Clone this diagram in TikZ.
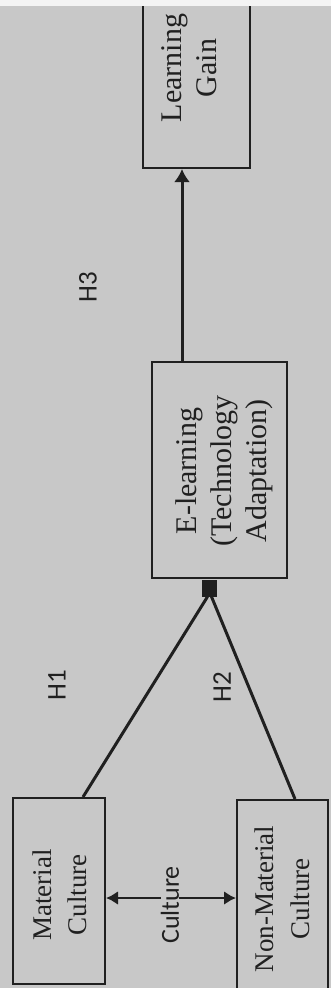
\documentclass[tikz,border=0pt]{standalone}
\usepackage{fontspec}
\setmainfont{Liberation Serif}
\newfontfamily\hyfont{Carlito}
\usetikzlibrary{arrows.meta}
\definecolor{paper}{RGB}{200,200,200}
\definecolor{ink}{RGB}{32,32,32}
\begin{document}
\begin{tikzpicture}[x=1pt,y=-1pt,
  box/.style={draw=ink, line width=2pt, inner sep=0pt, fill=paper},
  boxtext/.style={rotate=90, align=center, text=ink, inner sep=0pt,
    font=\fontsize{30}{35}\selectfont},
  hyp/.style={rotate=90, text=ink, inner sep=0pt,
    font=\hyfont\fontsize{27}{30}\selectfont},
  link/.style={draw=ink, line width=3pt},
  tip/.style={-{Latex[length=13pt,width=16pt]}}
]
% paper
\fill[paper] (0,0) rectangle (331,988);
\useasboundingbox (0,0) rectangle (331,988);

% boxes
\node[box, minimum width=107pt, minimum height=200pt] (gain) at (196.5,68) {};
\node[box, minimum width=135pt, minimum height=216pt] (eln) at (219.5,470) {};
\node[box, minimum width=92pt, minimum height=186pt] (mat) at (59,891) {};
\node[box, minimum width=91pt, minimum height=196pt] (non) at (282.5,898) {};

% box texts
\node[boxtext] (gaint) at (189,68) {Learning\\Gain};
\node[boxtext] (elnt) at (224,471) {E-learning\\(Technology\\Adaptation)};
\node[boxtext, font=\fontsize{27}{35}\selectfont] (matt) at (60,895) {Material\\Culture};
\node[boxtext, font=\fontsize{27}{36}\selectfont] (nont) at (282,899) {Non-Material\\Culture};

% junction block under the E-learning box
\node[fill=ink, minimum width=15pt, minimum height=17pt, inner sep=0pt] (jn) at (209.5,588) {};

% connectors
\draw[link, tip] ([xshift=-37.5pt]eln.north) -- ([xshift=-14.5pt]gain.south);
\draw[link] ([xshift=24pt]mat.north) -- ([xshift=-2pt]jn.south);
\draw[link] ([xshift=12.5pt]non.north) -- ([xshift=2pt]jn.south);
\draw[link, line width=2.4pt, {Latex[length=12pt,width=14pt]}-{Latex[length=12pt,width=14pt]}]
  ([yshift=-7pt]mat.east) -- ([yshift=-7pt]mat.east -| non.west);

% labels
\node[hyp, fill=paper, font=\hyfont\fontsize{26}{30}\selectfont] (cul) at (170,905) {Culture};
\node[hyp] (h1) at (57,685) {H1};
\node[hyp] (h2) at (222,687) {H2};
\node[hyp] (h3) at (88,287) {H3};

% pale strip along the top edge
\fill[white!80!paper] (0,0) rectangle (331,6);
\end{tikzpicture}
\end{document}
